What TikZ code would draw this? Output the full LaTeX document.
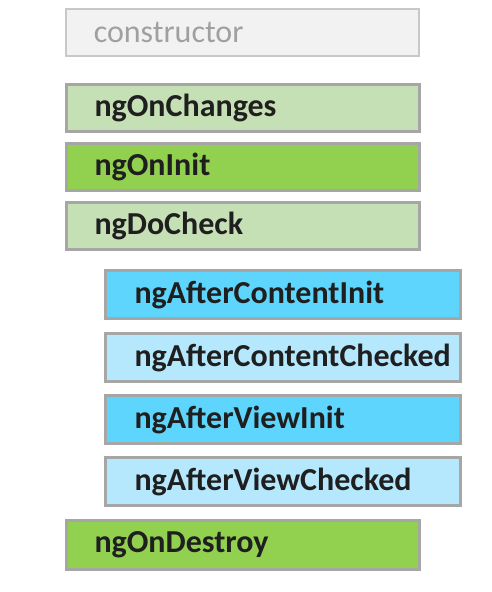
\documentclass[tikz,border=0pt]{standalone}
\usepackage{fontspec}
\setmainfont{Carlito}

\definecolor{ctorfill}{HTML}{F2F2F2}
\definecolor{ctorline}{HTML}{C8C8C8}
\definecolor{ctortext}{HTML}{A0A0A0}
\definecolor{boxline}{HTML}{A6A6A6}
\definecolor{lightgreen}{HTML}{C5E0B4}
\definecolor{darkgreen}{HTML}{92D050}
\definecolor{darkblue}{HTML}{5ED5FD}
\definecolor{lightblue}{HTML}{B5E8FC}

\tikzset{
  hookbox/.style={draw=boxline, line width=3pt, anchor=north west,
    minimum width=353pt, minimum height=47pt, inner xsep=27pt,
    text width=297pt, align=left, text=black!88,
    font=\fontsize{32}{36}\selectfont\bfseries},
  ctorbox/.style={hookbox, draw=ctorline, line width=1.5pt, fill=ctorfill,
    text=ctortext, font=\fontsize{32}{36}\selectfont}
}

\begin{document}
\begin{tikzpicture}[x=1pt,y=-1pt]
\useasboundingbox (0,0) rectangle (492,592);
\node[ctorbox] (ctor) at (65,8) {constructor};
\node[hookbox, fill=lightgreen] (onchanges) at (65,83) {ngOnChanges};
\node[hookbox, fill=darkgreen] (oninit) at (65,142) {ngOnInit};
\node[hookbox, fill=lightgreen] (docheck) at (65,201) {ngDoCheck};
\node[hookbox, fill=darkblue, minimum width=355pt, minimum height=48pt] (contentinit) at (104,269) {ngAfterContentInit};
\node[hookbox, fill=lightblue, minimum width=355pt, minimum height=48pt] (contentchecked) at (104,332) {ngAfterContentChecked};
\node[hookbox, fill=darkblue, minimum width=355pt, minimum height=48pt] (viewinit) at (104,394) {ngAfterViewInit};
\node[hookbox, fill=lightblue, minimum width=355pt, minimum height=48pt] (viewchecked) at (104,456) {ngAfterViewChecked};
\node[hookbox, fill=darkgreen, minimum height=49pt] (ondestroy) at (65,519) {ngOnDestroy};
\end{tikzpicture}
\end{document}
